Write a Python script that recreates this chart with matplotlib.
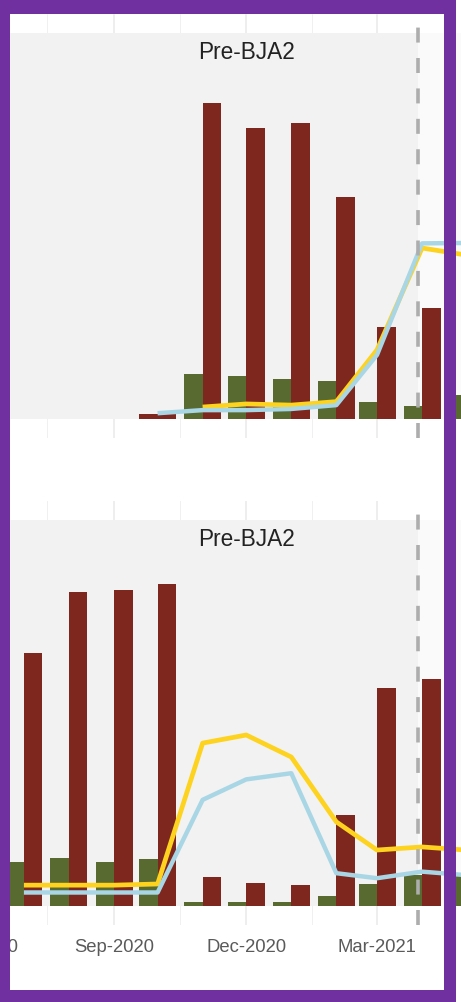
import numpy as np
import pandas as pd
import matplotlib
matplotlib.use("Agg")
import matplotlib.pyplot as plt
import matplotlib.dates as mdates
from matplotlib.patches import Rectangle

plt.rcParams['font.family'] = ['Liberation Sans', 'DejaVu Sans']
plt.rcParams['lines.scale_dashes'] = False

nan = np.nan
months = pd.date_range('2020-06-01', '2021-05-01', freq='MS')

# panel 1 (values as % of the shaded band height)
top_green = [nan, nan, nan, nan, nan, 11.6, 11.1, 10.4, 9.8, 4.5, 3.4, 6.2]
top_red = [nan, nan, nan, nan, 1.3, 81.9, 75.5, 76.8, 57.4, 23.9, 28.8, nan]
top_yellow = [nan, nan, nan, nan, nan, 3.1, 3.9, 3.6, 4.5, 17.9, 44.3, 42.5]
top_blue = [nan, nan, nan, nan, 1.5, 2.3, 2.3, 2.6, 3.6, 16.6, 45.5, 45.6]

# panel 2
bot_green = [nan, 11.5, 12.5, 11.5, 12.2, 1.0, 1.0, 1.0, 2.6, 5.6, 8.0, 8.5]
bot_red = [nan, 65.6, 81.4, 81.9, 83.4, 7.6, 6.0, 5.4, 23.6, 56.4, 58.7, nan]
bot_yellow = [nan, 5.4, 5.4, 5.4, 5.7, 42.2, 44.3, 38.6, 21.8, 14.5, 15.3, 14.5]
bot_blue = [nan, 3.5, 3.5, 3.5, 3.5, 27.5, 32.8, 34.4, 8.5, 7.2, 8.9, 8.0]

cutoff = pd.Timestamp('2021-03-29')
period_label = 'Pre-BJA2'

GREEN = '#586a30'
RED = '#7e271e'
YELLOW = '#fdd31f'
BLUE = '#a9d6e5'
PURPLE = '#7030a0'

W, H = 461, 1002
fig = plt.figure(figsize=(W / 100, H / 100), dpi=100)

# date scale: Sep-2020 at 114 px, Mar-2021 at 377 px
sep = mdates.date2num(pd.Timestamp('2020-09-01'))
mar = mdates.date2num(pd.Timestamp('2021-03-01'))
ppd = (377 - 114) / (mar - sep)
x0 = sep - 114 / ppd
x1 = x0 + W / ppd
bar_w = 18.5 / ppd

major_dates = pd.date_range('2020-06-01', '2021-06-01', freq='3MS')
major = mdates.date2num(major_dates)
minor = (major[:-1] + major[1:]) / 2
px_per_unit = 3.86
tick_font = dict(fontsize=13.3, color='#5a5a5a')


def add_panel(baseline_px, green, red, yellow, blue, labels):
    top_px = baseline_px - 105 * px_per_unit
    bottom_px = baseline_px + 5 * px_per_unit
    ax = fig.add_axes([0, 1 - bottom_px / H, 1, (bottom_px - top_px) / H])
    for s in ax.spines.values():
        s.set_visible(False)
    ax.set_yticks([])
    ax.set_xticks(major)
    ax.set_xticks(minor, minor=True)
    ax.xaxis.set_major_formatter(mdates.DateFormatter('%b-%Y'))
    ax.set_axisbelow(True)
    ax.grid(which='major', axis='x', color='#ebebeb', lw=1.2)
    ax.grid(which='minor', axis='x', color='#f0f0f0', lw=0.7)
    ax.tick_params(which='both', length=0)
    ax.tick_params(axis='x', labelsize=tick_font['fontsize'],
                   labelcolor=tick_font['color'], pad=10, labelbottom=labels)

    c = mdates.date2num(cutoff)
    ax.add_patch(Rectangle((x0, 0), c - x0, 100, facecolor='#f2f2f2',
                           edgecolor='none', zorder=0.8))
    ax.add_patch(Rectangle((c, 0), x1 - c, 100, facecolor='#fafafa',
                           edgecolor='none', zorder=0.8))

    x = mdates.date2num(months)
    g = np.array(green, dtype=float)
    r = np.array(red, dtype=float)
    both = ~np.isnan(g) & ~np.isnan(r)
    only_g = ~np.isnan(g) & np.isnan(r)
    only_r = np.isnan(g) & ~np.isnan(r)
    ax.bar(x[both] - bar_w / 2, g[both], bar_w, color=GREEN, zorder=2)
    ax.bar(x[both] + bar_w / 2, r[both], bar_w, color=RED, zorder=2)
    ax.bar(x[only_g], g[only_g], 2 * bar_w, color=GREEN, zorder=2)
    ax.bar(x[only_r], r[only_r], 2 * bar_w, color=RED, zorder=2)

    ax.plot(x, yellow, color=YELLOW, lw=3.4, solid_capstyle='butt', zorder=3)
    ax.plot(x, blue, color=BLUE, lw=3.2, solid_capstyle='butt', zorder=3.1)

    ax.axvline(c, color='#adadad', lw=2.6, dashes=(10.8, 11.1), zorder=4)
    ax.text(mdates.date2num(pd.Timestamp('2020-12-01')), 95, period_label,
            ha='center', va='center', fontsize=16.3, color='#222222', zorder=5)

    # limits last, so the tick list does not widen the view
    ax.set_xlim(x0, x1)
    ax.set_ylim(-5, 105)

    if labels:
        # the first break sits just left of the view, its label still shows
        ax.annotate(major_dates[0].strftime('%b-%Y'), xy=(major[0], 0),
                    xycoords=('data', 'axes fraction'), xytext=(0, -10),
                    textcoords='offset points', ha='center', va='top',
                    annotation_clip=False, **tick_font)
    return ax


add_panel(419, top_green, top_red, top_yellow, top_blue, False)
add_panel(906, bot_green, bot_red, bot_yellow, bot_blue, True)

# purple frame
for (l, t, r, b) in [(0, 0, 456, 14), (0, 990, 456, 1002),
                     (0, 0, 10, 1002), (444, 0, 456, 1002)]:
    fig.add_artist(Rectangle((l / W, 1 - b / H), (r - l) / W, (b - t) / H,
                             transform=fig.transFigure, facecolor=PURPLE,
                             edgecolor='none', zorder=10))

fig.savefig('out.png', dpi=100)
